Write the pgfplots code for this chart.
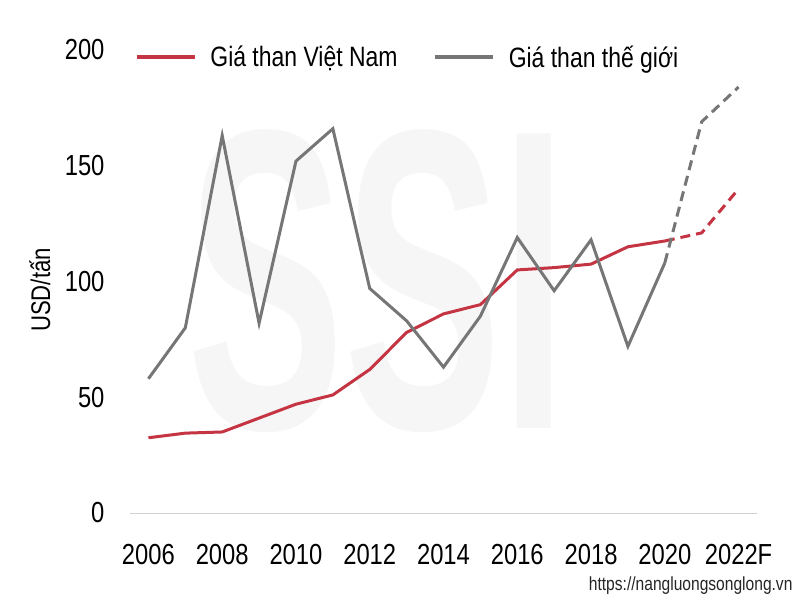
\documentclass[border=0pt]{standalone}
\usepackage{fontspec}
\setmainfont{Liberation Sans}[FakeStretch=0.82]
\newfontfamily\wmfont{Liberation Sans}[FakeStretch=0.55]
\usepackage{pgfplots}
\pgfplotsset{compat=1.18}
\definecolor{vnred}{RGB}{196,52,66}
\definecolor{wgrey}{RGB}{118,118,118}
\begin{document}
\begin{tikzpicture}[x=1pt,y=1pt]
\useasboundingbox[fill=white] (0,0) rectangle (800,600);
\begin{axis}[
  scale only axis, width=627pt, height=463pt,
  at={(130pt,87pt)}, anchor=south west,
  xmin=2005.5, xmax=2022.5, ymin=0, ymax=200,
  axis y line*=left, axis x line*=bottom,
  y axis line style={draw=none},
  x axis line style={draw=gray!35, line width=1pt, -},
  xtick={2006,2008,...,2022},
  xticklabels={2006,2008,2010,2012,2014,2016,2018,2020,2022F},
  ytick={0,50,100,150,200},
  major tick length=0pt,
  tick label style={font=\fontsize{29}{30}\selectfont, text=black},
  /pgf/number format/assume math mode=true,
  xticklabel style={yshift=-28pt},
  yticklabel style={xshift=-22pt},
  clip=false,
  legend columns=2,
  legend style={at={(0.0,1.0)}, anchor=west, draw=none, fill=none,
    font=\fontsize{28}{29}\selectfont, yshift=-7pt, xshift=2pt,
    /tikz/every odd column/.append style={column sep=12pt},
    /tikz/every even column/.append style={column sep=34pt}},
  legend image code/.code={\draw[#1, line width=3.2pt] (0pt,0pt) -- (58pt,0pt);},
]
\node[text=gray!7, font=\wmfont\bfseries\fontsize{428}{428}\selectfont, anchor=center, inner sep=0pt, text height=306pt, text depth=0pt] at (axis cs:2012.2,102.4) {SSI};
\addplot[vnred, line width=3pt] coordinates {
(2006,32.5)(2007,34.5)(2008,35)(2009,41)(2010,47)(2011,51)(2012,62)(2013,78)(2014,86)(2015,90)(2016,105)(2017,106)(2018,107.5)(2019,115)(2020,117.5)};
\addlegendentry{Giá than Việt Nam}
\addplot[wgrey, line width=3pt] coordinates {
(2006,58)(2007,80)(2008,163)(2009,82)(2010,152)(2011,166)(2012,97)(2013,83)(2014,63)(2015,85)(2016,119)(2017,96)(2018,118)(2019,72)(2020,108)};
\addlegendentry{Giá than thế giới}
\addplot[vnred, line width=3pt, dash pattern=on 10pt off 6pt, forget plot] coordinates {
(2020,117.5)(2021,121)(2022,140)};
\addplot[wgrey, line width=3pt, dash pattern=on 10pt off 6pt, forget plot] coordinates {
(2020,108)(2021,169)(2022,184)};
\end{axis}
\node[rotate=90, font=\fontsize{27}{28}\selectfont] at (40,310) {USD/tấn};
\node[anchor=east, font=\fontsize{19}{20}\selectfont, text=black!85] at (796,14) {https://nangluongsonglong.vn};
\end{tikzpicture}
\end{document}
